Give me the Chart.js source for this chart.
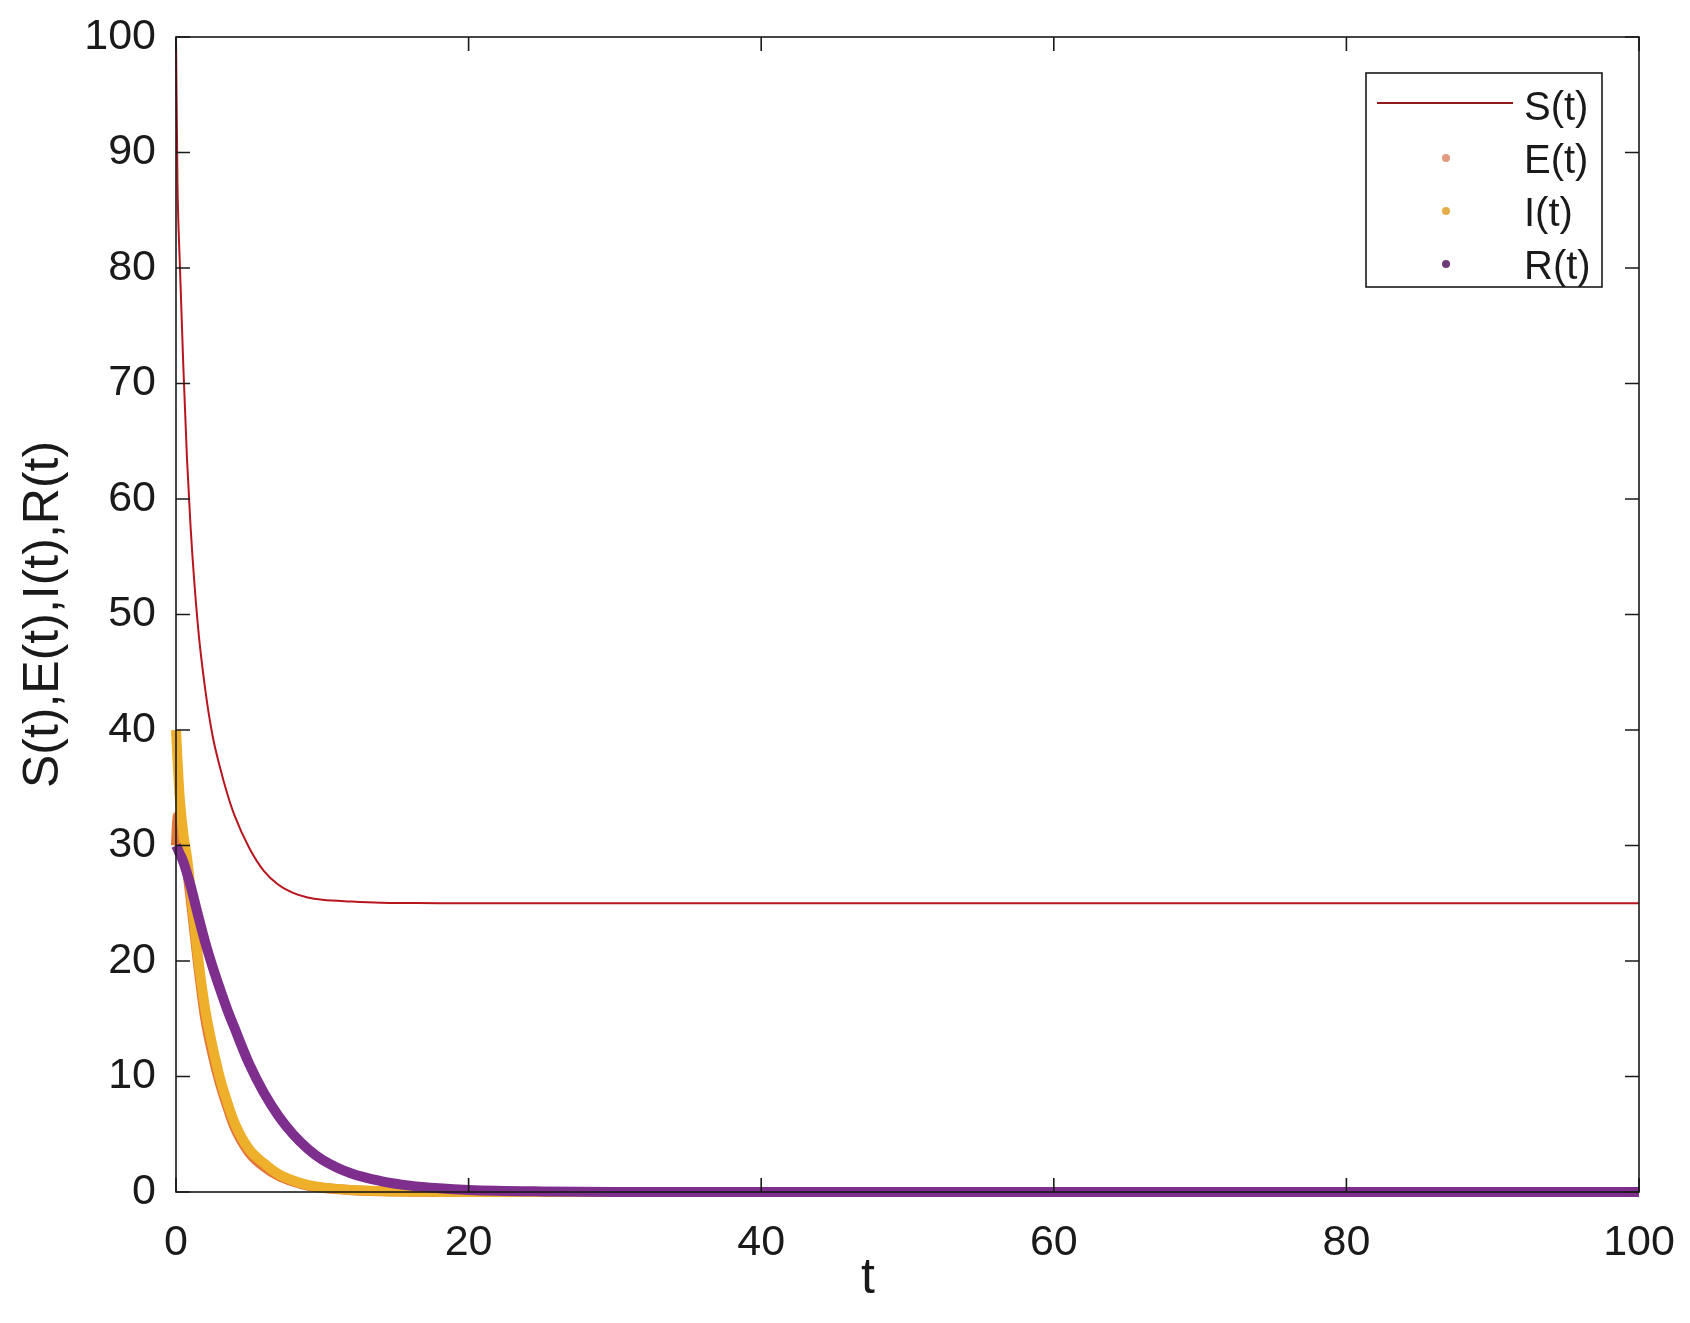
<!DOCTYPE html>
<html>
<head>
<meta charset="utf-8">
<script src="https://cdn.jsdelivr.net/npm/chart.js@4/dist/chart.umd.min.js"></script>
<style>
    html, body { margin: 0; padding: 0; background: #fff; }
    #wrap { width: 1690px; height: 1323px; }
</style>
</head>
<body>
<div id="wrap"><canvas id="seirChart" width="1690" height="1323"></canvas></div>
<script>
let tValues = [0, 0.1, 0.25, 0.5, 0.75, 1, 1.5, 2, 2.5, 3, 3.5, 4, 5, 6, 7, 8, 9, 10, 12, 14, 16, 18, 20, 25, 30, 40, 50, 60, 70, 80, 90, 100];
let sValues = [100, 87.5, 80.8, 71.5, 63.5, 57.5, 49, 43.5, 39.5, 36.8, 34.5, 32.6, 29.8, 27.8, 26.6, 25.9, 25.5, 25.3, 25.15, 25.05, 25.02, 25, 25, 25, 25, 25, 25, 25, 25, 25, 25, 25];
let eValues = [30, 32.5, 32.6, 30.2, 28.0, 25.4, 19.8, 15.0, 11.9, 9.4, 7.4, 5.6, 3.4, 2.2, 1.4, 0.9, 0.55, 0.36, 0.16, 0.07, 0.03, 0.01, 0, 0, 0, 0, 0, 0, 0, 0, 0, 0];
let iValues = [40, 37.5, 34.2, 31, 29, 26.2, 20.4, 15.8, 12.6, 9.9, 7.8, 6.0, 3.7, 2.5, 1.55, 1.0, 0.62, 0.4, 0.18, 0.08, 0.03, 0.01, 0, 0, 0, 0, 0, 0, 0, 0, 0, 0];
let rValues = [30, 29.75, 29.3, 28.6, 27.6, 26.5, 24.0, 21.6, 19.5, 17.6, 15.8, 14.2, 11.1, 8.6, 6.6, 5.0, 3.75, 2.8, 1.6, 0.95, 0.55, 0.32, 0.18, 0.05, 0.01, 0, 0, 0, 0, 0, 0, 0];

let seriesLabels = ["S(t)", "E(t)", "I(t)", "R(t)"];
let seriesColors = ["#B8161E", "#E4763A", "#EEB02A", "#7E2F8E"];
let seriesWidths = [2, 10, 10, 10];
let xTitle = "t";
let yTitle = "S(t),E(t),I(t),R(t)";

let textColor = "#1a1a1a";
let fontName = '"Liberation Sans", Arial, sans-serif';

function toPoints(values) {
    let pts = [];
    for (let i = 0; i < tValues.length; i++) {
        pts.push({x: tValues[i], y: values[i]});
    }
    return pts;
}

let allValues = [sValues, eValues, iValues, rValues];
let drawOrder = [0, 3, 2, 1];
let datasets = [];
for (let i = 0; i < allValues.length; i++) {
    datasets.push({
        label: seriesLabels[i],
        data: toPoints(allValues[i]),
        borderColor: seriesColors[i],
        backgroundColor: seriesColors[i],
        borderWidth: seriesWidths[i],
        pointRadius: 0,
        cubicInterpolationMode: 'monotone',
        clip: false,
        order: drawOrder[i]
    });
}

// box, inward ticks, axis titles and the legend in the top right corner
let frameAndLegend = {
    id: 'frameAndLegend',
    afterDatasetsDraw(chart) {
        let ctx = chart.ctx;
        let area = chart.chartArea;
        let xs = chart.scales.x;
        let ys = chart.scales.y;
        ctx.save();
        ctx.strokeStyle = textColor;
        ctx.lineWidth = 1.6;
        ctx.strokeRect(area.left, area.top, area.right - area.left, area.bottom - area.top);
        ctx.beginPath();
        xs.ticks.forEach(tk => {
            let px = xs.getPixelForValue(tk.value);
            ctx.moveTo(px, area.bottom); ctx.lineTo(px, area.bottom - 14);
            ctx.moveTo(px, area.top); ctx.lineTo(px, area.top + 14);
        });
        ys.ticks.forEach(tk => {
            let py = ys.getPixelForValue(tk.value);
            ctx.moveTo(area.left, py); ctx.lineTo(area.left + 14, py);
            ctx.moveTo(area.right, py); ctx.lineTo(area.right - 14, py);
        });
        ctx.stroke();

        ctx.fillStyle = textColor;
        ctx.font = '50px ' + fontName;
        ctx.textAlign = 'center';
        ctx.textBaseline = 'middle';
        ctx.fillText(xTitle, 868, 1279);
        ctx.save();
        ctx.translate(44, (area.top + area.bottom) / 2);
        ctx.rotate(-Math.PI / 2);
        ctx.fillText(yTitle, 0, 0);
        ctx.restore();

        // legend
        let lx = 1366, ly = 73, lw = 236, lh = 214;
        ctx.fillStyle = '#fff';
        ctx.fillRect(lx, ly, lw, lh);
        ctx.lineWidth = 1.6;
        ctx.strokeStyle = textColor;
        ctx.strokeRect(lx, ly, lw, lh);
        ctx.font = '40px ' + fontName;
        ctx.textAlign = 'left';
        let rowY = [105, 158, 211, 264];
        let dotColors = ["", "#E39A7E", "#E5AE4A", "#6E3A78"];
        chart.data.datasets.forEach((ds, i) => {
            if (i === 0) {
                ctx.strokeStyle = '#8E1A1E';
                ctx.lineWidth = 2;
                ctx.beginPath();
                ctx.moveTo(1377, rowY[i] - 2);
                ctx.lineTo(1513, rowY[i] - 2);
                ctx.stroke();
            } else {
                ctx.fillStyle = dotColors[i];
                ctx.beginPath();
                ctx.arc(1446, rowY[i], 4, 0, Math.PI * 2);
                ctx.fill();
            }
            ctx.fillStyle = textColor;
            ctx.fillText(ds.label, 1524, rowY[i] + 4);
        });
        ctx.restore();
    }
};

new Chart(document.getElementById('seirChart').getContext('2d'), {
    type: 'line',
    data: {datasets: datasets},
    options: {
        responsive: false,
        animation: false,
        layout: {autoPadding: false, padding: {top: 37, right: 51, left: 0, bottom: 0}},
        plugins: {
            legend: {display: false},
            tooltip: {enabled: false}
        },
        scales: {
            x: {
                type: 'linear',
                min: 0,
                max: 100,
                border: {display: false},
                grid: {display: false, drawTicks: false},
                ticks: {stepSize: 20, color: textColor, padding: 25, font: {size: 43, family: fontName}, maxRotation: 0},
                afterFit: scale => {
                    scale.height = 131;
                    scale.paddingLeft = 0;
                    scale.paddingRight = 0;
                }
            },
            y: {
                min: 0,
                max: 100,
                border: {display: false},
                grid: {display: false, drawTicks: false},
                ticks: {stepSize: 10, color: textColor, padding: 20, font: {size: 43, family: fontName}},
                afterFit: scale => {
                    scale.width = 176;
                    scale.paddingTop = 0;
                    scale.paddingBottom = 0;
                }
            }
        }
    },
    plugins: [frameAndLegend]
});
</script>
</body>
</html>
